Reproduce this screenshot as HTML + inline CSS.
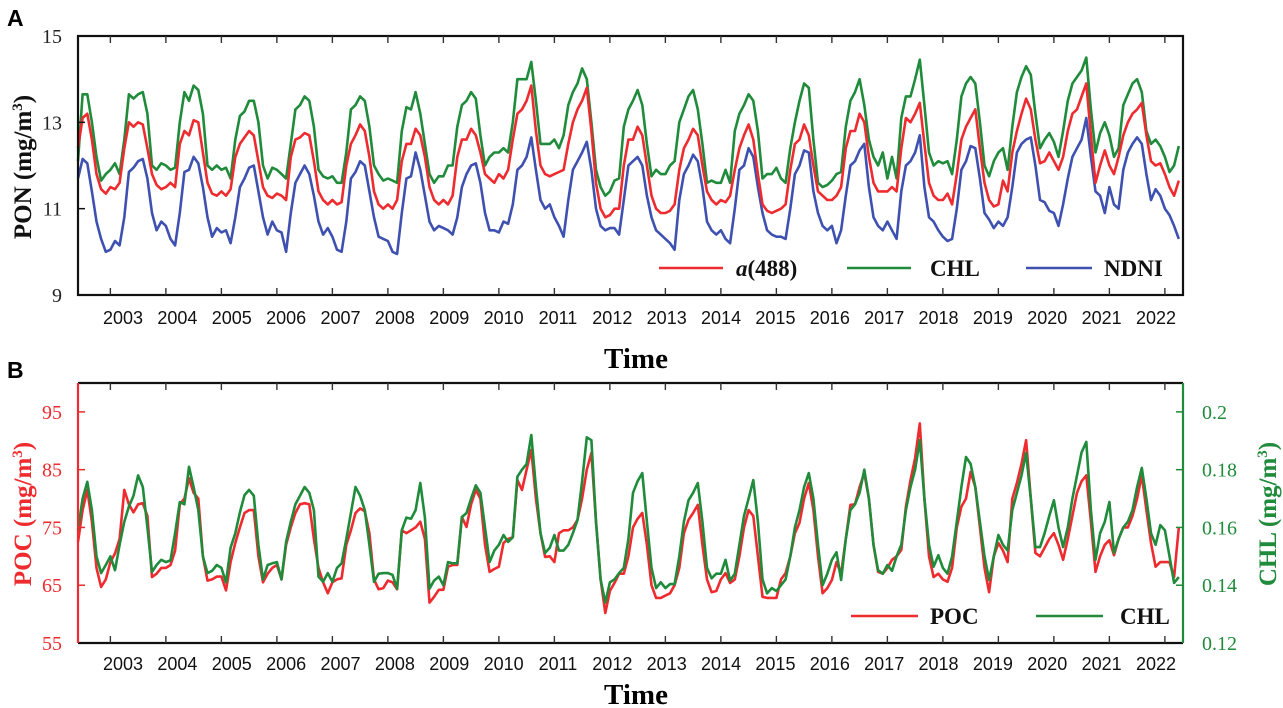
<!DOCTYPE html>
<html><head><meta charset="utf-8"><style>
html,body{margin:0;padding:0;background:#fff;}
svg{display:block;}
.serif{font-family:"Liberation Serif",serif;}
.sans{font-family:"Liberation Sans",sans-serif;}
</style></head><body>
<svg id="chart" width="1283" height="708" viewBox="0 0 1283 708" xmlns="http://www.w3.org/2000/svg">
<g id="panelA"></g>
<g id="panelB"></g>
</svg>
<script>
// Years shown on x axis
const yearLabels = ["2003","2004","2005","2006","2007","2008","2009","2010","2011","2012","2013","2014","2015","2016","2017","2018","2019","2020","2021","2022"];
// Monthly series from Jun 2002 to Apr 2022
const redA = [
12.4,13.1,13.2,12.6,11.8,11.45,11.35,
11.5,11.45,11.6,12.4,13.0,12.9,13.0,12.95,12.4,11.8,11.55,11.45,
11.5,11.6,11.5,12.5,12.8,12.7,13.05,13.0,12.3,11.6,11.35,11.3,
11.4,11.3,11.45,12.2,12.5,12.65,12.8,12.7,12.1,11.5,11.3,11.25,
11.35,11.3,11.2,12.2,12.6,12.65,12.75,12.7,12.1,11.4,11.2,11.1,
11.2,11.1,11.15,12.0,12.5,12.7,12.95,12.8,12.2,11.4,11.1,11.0,
11.1,11.0,11.2,12.1,12.5,12.5,12.85,12.7,12.2,11.5,11.2,11.1,
11.2,11.1,11.3,12.2,12.6,12.6,12.85,12.7,12.3,11.8,11.7,11.6,
11.8,11.7,11.9,12.6,13.2,13.3,13.5,13.85,12.8,12.0,11.8,11.75,
11.8,11.85,11.9,12.5,13.0,13.3,13.5,13.8,12.8,11.6,11.0,10.8,
10.85,11.0,11.0,12.0,12.6,12.6,12.9,12.7,12.0,11.3,11.0,10.9,
10.9,10.95,11.1,11.9,12.4,12.6,12.85,12.7,12.0,11.4,11.2,11.1,
11.2,11.15,11.3,11.9,12.4,12.7,12.95,12.6,11.8,11.1,10.95,10.9,
10.95,11.0,11.1,11.9,12.5,12.6,12.95,12.7,12.0,11.4,11.3,11.2,
11.2,11.3,11.5,12.4,12.8,12.8,13.2,13.0,12.2,11.6,11.4,11.4,
11.4,11.5,11.4,12.4,13.1,13.0,13.2,13.45,12.5,11.6,11.3,11.2,
11.2,11.35,11.1,11.8,12.6,12.9,13.1,13.3,12.4,11.6,11.2,11.05,
11.1,11.65,11.4,12.3,12.8,13.2,13.55,13.3,12.6,12.05,12.1,12.3,
12.1,11.9,12.2,12.8,13.2,13.3,13.6,13.9,12.7,11.6,12.0,12.35,
12.0,11.8,12.2,12.7,13.0,13.2,13.3,13.45,12.7,12.1,12.0,12.05,
11.8,11.5,11.3,11.65];
const greenA = [
12.1,13.65,13.65,13.0,12.2,11.65,11.8,
11.9,12.05,11.8,12.6,13.65,13.55,13.65,13.7,13.2,12.0,11.9,12.05,
12.0,11.9,11.95,13.0,13.7,13.5,13.85,13.75,13.2,12.0,11.9,12.0,
11.9,11.95,11.7,12.6,13.15,13.25,13.5,13.5,13.0,12.0,11.7,11.95,
11.9,11.8,11.7,12.5,13.3,13.4,13.6,13.5,12.9,11.9,11.75,11.7,
11.75,11.6,11.6,12.3,13.3,13.4,13.6,13.5,12.9,12.0,11.8,11.65,
11.7,11.65,11.6,12.8,13.35,13.3,13.7,13.2,12.5,11.8,11.6,11.75,
11.75,12.0,12.0,12.9,13.4,13.5,13.7,13.55,12.7,12.0,12.2,12.3,
12.3,12.4,12.3,13.0,14.0,14.0,14.0,14.4,13.5,12.5,12.5,12.5,
12.6,12.4,12.7,13.4,13.7,13.9,14.25,14.0,13.0,11.9,11.5,11.3,
11.4,11.65,11.7,12.9,13.3,13.5,13.75,13.4,12.5,11.75,11.9,11.8,
11.8,12.0,12.1,13.0,13.3,13.6,13.75,13.3,12.5,11.6,11.65,11.6,
11.6,11.9,11.6,12.8,13.2,13.4,13.65,13.5,12.8,11.7,11.8,11.8,
11.95,11.7,11.6,12.4,13.0,13.5,13.9,13.8,12.6,11.6,11.5,11.55,
11.65,11.8,11.85,12.9,13.5,13.7,14.0,13.4,12.6,12.2,12.0,12.3,
11.7,12.2,11.7,13.1,13.6,13.6,14.0,14.45,13.4,12.3,12.0,12.1,
12.05,12.1,11.8,12.6,13.6,13.9,14.05,13.9,13.0,12.0,11.75,12.1,
12.3,12.4,11.9,12.9,13.7,14.05,14.3,14.1,13.2,12.4,12.6,12.75,
12.55,12.2,12.8,13.5,13.9,14.05,14.2,14.5,13.3,12.3,12.75,13.0,
12.7,12.2,12.4,13.4,13.65,13.9,14.0,13.7,12.8,12.5,12.6,12.45,
12.2,11.85,12.0,12.45];
const blueA = [
11.7,12.15,12.05,11.4,10.7,10.3,10.0,
10.05,10.25,10.15,10.8,11.85,11.95,12.1,12.15,11.7,10.9,10.5,10.7,
10.6,10.3,10.15,10.9,11.85,11.9,12.2,12.05,11.5,10.8,10.35,10.55,
10.45,10.5,10.2,10.8,11.5,11.7,11.95,12.0,11.4,10.8,10.4,10.7,
10.5,10.45,10.0,10.9,11.6,11.8,12.0,11.8,11.3,10.7,10.4,10.55,
10.35,10.05,10.0,10.7,11.7,11.85,12.1,12.0,11.4,10.8,10.35,10.3,
10.25,10.0,9.95,10.9,11.7,11.75,12.3,11.9,11.3,10.7,10.5,10.6,
10.55,10.5,10.4,10.8,11.5,11.8,12.0,12.05,11.6,10.9,10.5,10.5,
10.45,10.7,10.65,11.1,11.9,12.0,12.2,12.65,11.9,11.2,11.0,11.1,
10.8,10.6,10.35,11.2,11.9,12.1,12.3,12.55,11.9,11.0,10.6,10.5,
10.55,10.55,10.4,11.2,12.0,12.1,12.2,12.0,11.3,10.8,10.5,10.4,
10.3,10.2,10.05,11.2,11.8,12.0,12.25,12.1,11.5,10.7,10.5,10.4,
10.5,10.3,10.2,11.0,11.9,12.0,12.4,12.2,11.5,10.9,10.5,10.4,
10.35,10.35,10.3,11.0,11.8,12.0,12.35,12.3,11.4,10.9,10.6,10.5,
10.6,10.2,10.5,11.3,12.0,12.1,12.35,12.5,11.5,10.8,10.6,10.5,
10.7,10.5,10.3,11.4,12.0,12.1,12.3,12.7,11.5,10.8,10.7,10.5,
10.35,10.25,10.3,11.0,11.9,12.1,12.45,12.4,11.7,10.9,10.75,10.55,
10.7,10.6,10.8,11.5,12.3,12.5,12.6,12.65,12.0,11.2,11.15,10.95,
10.9,10.6,11.1,11.7,12.2,12.4,12.6,13.1,12.2,11.4,11.3,10.9,
11.5,11.1,11.0,11.9,12.3,12.5,12.65,12.5,11.8,11.2,11.45,11.3,
11.0,10.85,10.6,10.3];
const pocB = [
72.5,78,81.5,76,68,64.7,66,
69,70.5,73,81.5,79,77.6,79,79.2,77,66.4,67,68,
68,68.5,71,79,80,83.5,81,80,70,65.8,66,66.5,
66.5,64.1,69,72.3,75,77.5,78,78,70,65.5,67,68,
68.5,66,72,75,77.5,79,79.2,79,73,68,65.5,63.6,
65.5,66,66.2,72,74.5,77.5,78.3,77.8,74,66,64.3,64.5,
65.8,65.5,64.3,74.5,74,74.5,75,76,73,62,63,64.2,
64.2,68.2,68.5,68.5,76.8,75.1,79,81.5,80,72,67.3,67.8,
68.2,72.3,73,73.3,83.2,81.5,85,88.4,80,74,69.9,70,
69,74,74.5,74.5,75,76.3,80,85,87.9,76,66,60.2,
64,65.4,67,67,70,75,76.5,77.5,72,65,62.8,62.8,
63.2,63.6,65,68,74,76.3,77.5,78.9,72,66,63.8,64,
66,67.1,65.4,66,70,75,78,77,70,63,62.8,62.8,
62.8,66,67.1,70,74,75.8,80,82.7,78,70,63.6,64.5,
65.9,69,67,73,78.9,79,82,84.4,80,72,67.3,67,
68,69.4,70,71.1,78.6,83.2,87,93,80,70,66.4,67,
66,65.6,68,75,78.6,80,84.6,82,75,68,63.8,70,
72.3,71,69,80,82.7,86,90.1,80,70.6,70,71.5,73,
74,72,69.4,73,77,81,83,84,76,67.3,70,72,
72.8,70.2,73,75,75,77,80,84,78,72.3,68.2,69,
69,69,66.4,75];
const chlB = [
.159,.170,.1758,.166,.150,.1442,.147,
.150,.1452,.154,.162,.1672,.171,.178,.174,.160,.1446,.147,.1488,
.148,.1486,.158,.1688,.168,.181,.174,.166,.150,.1442,.145,.147,
.146,.141,.153,.158,.1652,.1712,.173,.171,.154,.142,.147,.1476,
.148,.142,.155,.162,.168,.171,.174,.172,.166,.143,.1412,.1442,
.1412,.146,.1476,.156,.165,.174,.171,.166,.154,.1412,.144,.1442,
.1442,.1436,.1388,.159,.1634,.163,.166,.1754,.1634,.1388,.1416,.143,
.140,.148,.1476,.1476,.1636,.165,.170,.1746,.172,.160,.148,.152,
.154,.1574,.155,.1566,.1776,.180,.182,.192,.174,.158,.1512,.153,
.1574,.152,.152,.154,.158,.1626,.176,.1912,.1902,.162,.142,.134,
.141,.142,.1442,.146,.156,.172,.176,.1788,.162,.146,.139,.141,
.139,.1404,.1404,.150,.162,.1694,.172,.1754,.162,.146,.1424,.144,
.144,.1488,.1416,.144,.154,.164,.170,.1764,.162,.142,.1372,.139,
.138,.140,.142,.150,.160,.166,.174,.1788,.170,.154,.140,.144,
.1488,.1514,.1418,.156,.166,.168,.172,.180,.170,.154,.1452,.144,
.147,.145,.150,.154,.166,.174,.180,.1902,.170,.154,.1464,.1504,
.146,.144,.150,.162,.174,.1844,.182,.174,.162,.150,.1418,.150,
.1574,.154,.152,.166,.172,.178,.1858,.170,.1532,.1532,.158,.164,
.1694,.160,.1532,.160,.170,.178,.186,.1896,.166,.1488,.158,.162,
.1688,.1512,.156,.160,.162,.166,.174,.1806,.170,.158,.154,.1608,
.159,.150,.1408,.1428];
const yTicksA = [15,13,11,9];
const yTicksPOC = [95,85,75,65,55];
const yTicksCHL = ["0.2","0.18","0.16","0.14","0.12"];

const NS="http://www.w3.org/2000/svg";
const RED="#ee2b2f", GREEN="#1f8b3b", BLUE="#3f51b0";
const X0=78, X1=1183, MSTEP=4.625;
function xm(i){return X0+i*MSTEP;}
function mk(tag,attrs,parent){const e=document.createElementNS(NS,tag);for(const k in attrs)e.setAttribute(k,attrs[k]);parent.appendChild(e);return e;}
function txt(s,attrs,parent){const e=mk('text',attrs,parent);e.textContent=s;return e;}

// Panel A
const A=document.getElementById('panelA');
const aTop=36,aBot=295;
function yA(v){return aBot-(v-9)/6*(aBot-aTop);}
function line(data,yf,color,g,name){
  const p=mk('polyline',{points:data.map((v,i)=>xm(i).toFixed(1)+','+yf(v).toFixed(1)).join(' '),fill:'none',stroke:color,'stroke-width':2.6,'stroke-linejoin':'round'},g);
  
  
}
line(blueA,yA,BLUE,A,'ndni-line');
line(greenA,yA,GREEN,A,'chl-line-a');
line(redA,yA,RED,A,'a488-line');
let fr=mk('rect',{x:X0,y:aTop,width:X1-X0,height:aBot-aTop,fill:'none',stroke:'#111','stroke-width':2.2},A);


yTicksA.forEach(v=>{
  const y=yA(v);
  if(v!==15&&v!==9){const t=mk('line',{x1:X0,x2:X0+7,y1:y,y2:y,stroke:'#111','stroke-width':1.5},A);}
  const l=txt(String(v),{x:62,y:y+7,'text-anchor':'end','font-size':20,class:'serif',fill:'#222'},A);
  
  
});
function xTicks(g,top,bot,labY){
  yearLabels.forEach((s,k)=>{
    const x=xm(7+k*12);
    const t1=mk('line',{x1:x,x2:x,y1:top,y2:top+7,stroke:'#333','stroke-width':1.4},g);
    
    
    const t2=mk('line',{x1:x,x2:x,y1:bot,y2:bot-7,stroke:'#333','stroke-width':1.4},g);
    
    
    const l=txt(s,{x:123+k*54.37,y:labY,'text-anchor':'middle','font-size':18,class:'sans',fill:'#111'},g);
    
    
  });
}
xTicks(A,aTop,aBot,324);
// legend A
const lgA=mk('g',{},A);


[[659,723,RED,'a(488)',736],[847,911,GREEN,'CHL',930],[1026,1092,BLUE,'NDNI',1104]].forEach(d=>{
  const ln=mk('line',{x1:d[0],x2:d[1],y1:268,y2:268,stroke:d[2],'stroke-width':2.6},lgA);
  
  
  const t=mk('text',{x:d[4],y:276,'font-size':23,'font-weight':'bold',class:'serif',fill:'#111'},lgA);
  
  
  if(d[3]==='a(488)'){const s=document.createElementNS(NS,'tspan');s.setAttribute('font-style','italic');s.textContent='a';t.appendChild(s);t.appendChild(document.createTextNode('(488)'));}
  else t.textContent=d[3];
});

// Panel B
const B=document.getElementById('panelB');
const bTop=383,bBot=643;
function yP(v){return bBot-(v-55)/45*(bBot-bTop);}
function yC(v){return bBot-(v-0.12)/0.09*(bBot-bTop);}
line(pocB,yP,RED,B,'poc-line');
line(chlB,yC,GREEN,B,'chl-line-b');
let l1=mk('line',{x1:X0,x2:X1,y1:bTop,y2:bTop,stroke:'#111','stroke-width':2.2},B);
let l2=mk('line',{x1:X0,x2:X1,y1:bBot,y2:bBot,stroke:'#111','stroke-width':2.2},B);
let l3=mk('line',{x1:X0,x2:X0,y1:bTop,y2:bBot,stroke:RED,'stroke-width':2.2},B);
let l4=mk('line',{x1:X1,x2:X1,y1:bTop,y2:bBot,stroke:GREEN,'stroke-width':2.2},B);
yTicksPOC.forEach(v=>{
  const y=yP(v);
  if(v!==55){const t=mk('line',{x1:X0,x2:X0+7,y1:y,y2:y,stroke:RED,'stroke-width':1.5},B);}
  const l=txt(String(v),{x:62,y:y+7,'text-anchor':'end','font-size':20,class:'serif',fill:RED},B);
  
  
});
yTicksCHL.forEach(s=>{
  const y=yC(parseFloat(s));
  if(s!=="0.12"){const t=mk('line',{x1:X1,x2:X1-7,y1:y,y2:y,stroke:GREEN,'stroke-width':1.5},B);}
  const l=txt(s,{x:1202,y:y+7,'text-anchor':'start','font-size':20,class:'serif',fill:GREEN},B);
  
  
});
xTicks(B,bTop,bBot,670);
const lgB=mk('g',{},B);


[[851,918,RED,'POC',930],[1036,1103,GREEN,'CHL',1120]].forEach(d=>{
  const ln=mk('line',{x1:d[0],x2:d[1],y1:616,y2:616,stroke:d[2],'stroke-width':2.6},lgB);
  
  
  const t=txt(d[3],{x:d[4],y:624,'font-size':23,'font-weight':'bold',class:'serif',fill:'#111'},lgB);
  
  
});

// Titles
const S=document.getElementById('chart');
function title(s,attrs,name,sup){
  const t=mk('text',attrs,S);
  
  
  t.textContent=s;
  if(sup){const sp=document.createElementNS(NS,'tspan');sp.setAttribute('font-size','15');sp.setAttribute('dy','-9');sp.textContent='3';t.appendChild(sp);const sp2=document.createElementNS(NS,'tspan');sp2.setAttribute('dy','9');sp2.textContent=')';t.appendChild(sp2);}
  return t;
}
title('A',{x:7,y:26,'font-size':23,'font-weight':'bold',class:'sans',fill:'#000'},'panel-a-label');
title('B',{x:7,y:378,'font-size':23,'font-weight':'bold',class:'sans',fill:'#000'},'panel-b-label');
title('Time',{x:636,y:368,'font-size':29,'font-weight':'bold',class:'serif','text-anchor':'middle',fill:'#000'},'x-axis-title-a');
title('Time',{x:636,y:704,'font-size':29,'font-weight':'bold',class:'serif','text-anchor':'middle',fill:'#000'},'x-axis-title-b');
title('PON (mg/m',{transform:'translate(31,167) rotate(-90)','font-size':25,'font-weight':'bold',class:'serif','text-anchor':'middle',fill:'#111'},'y-axis-title-pon',true);
title('POC (mg/m',{transform:'translate(31,514) rotate(-90)','font-size':25,'font-weight':'bold',class:'serif','text-anchor':'middle',fill:RED},'y-axis-title-poc',true);
title('CHL (mg/m',{transform:'translate(1276,514) rotate(-90)','font-size':25,'font-weight':'bold',class:'serif','text-anchor':'middle',fill:GREEN},'y-axis-title-chl',true);
</script>
</body></html>
